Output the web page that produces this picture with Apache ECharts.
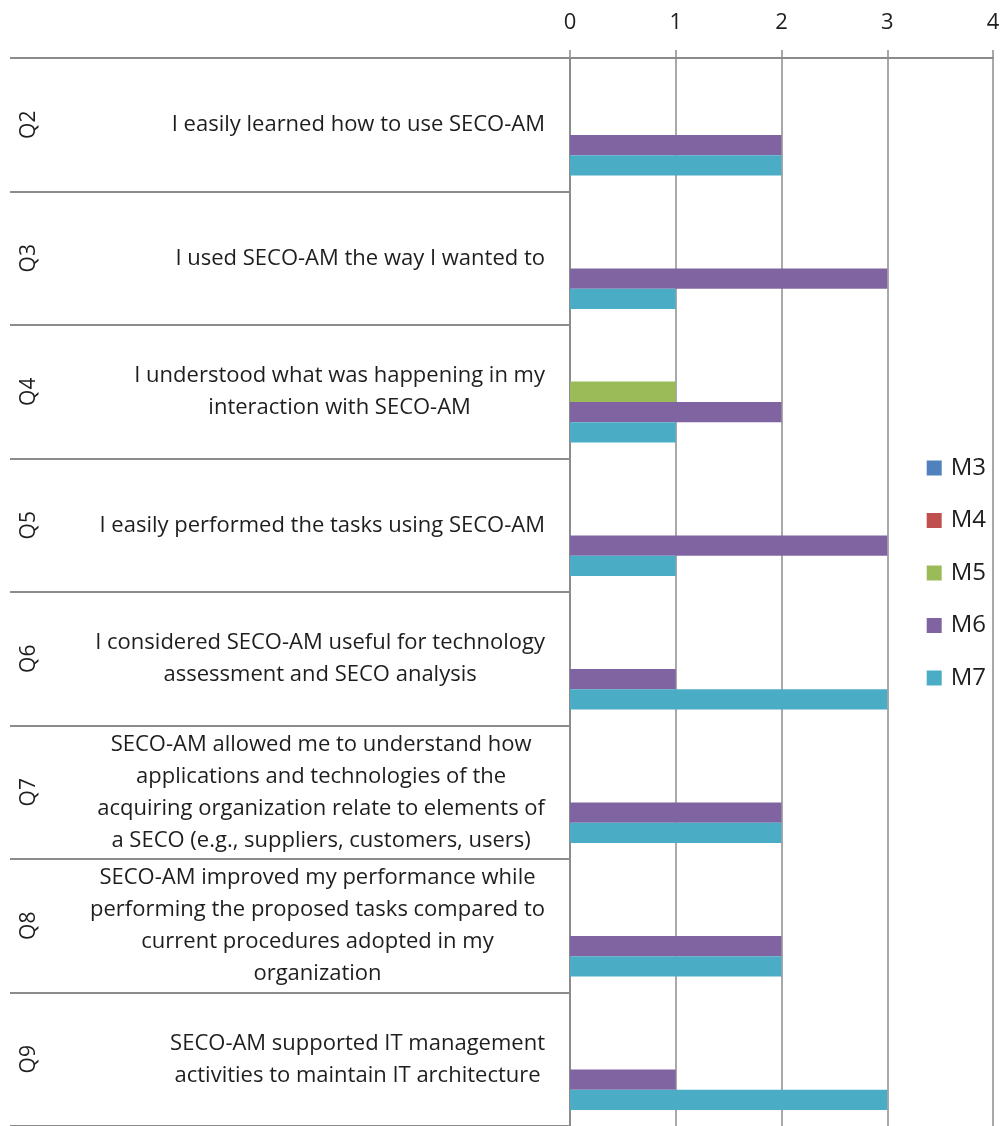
<!DOCTYPE html>
<html>
<head>
<meta charset="utf-8">
<script src="https://cdn.jsdelivr.net/npm/echarts@6/dist/echarts.min.js"></script>
<style>
  html, body { margin: 0; padding: 0; background: #fff; }
  #chart { width: 1003px; height: 1126px; }
</style>
</head>
<body>
<div id="chart"></div>
<script>
// Question codes (outer category level) and question texts (inner level)
const questionCodes = ['Q2', 'Q3', 'Q4', 'Q5', 'Q6', 'Q7', 'Q8', 'Q9'];
const questionTexts = [
  'I easily learned how to use SECO-AM',
  'I used SECO-AM the way I wanted to',
  'I understood what was happening in my\ninteraction with SECO-AM',
  'I easily performed the tasks using SECO-AM',
  'I considered SECO-AM useful for technology\nassessment and SECO analysis',
  'SECO-AM allowed me to understand how\napplications and technologies of the\nacquiring organization relate to elements of\na SECO (e.g., suppliers, customers, users)',
  'SECO-AM improved my performance while\nperforming the proposed tasks compared to\ncurrent procedures adopted in my\norganization',
  'SECO-AM supported IT management\nactivities to maintain IT architecture'
];

// Answer counts per question
const seriesNames = ['M3', 'M4', 'M5', 'M6', 'M7'];
const m3Values = [0, 0, 0, 0, 0, 0, 0, 0];
const m4Values = [0, 0, 0, 0, 0, 0, 0, 0];
const m5Values = [0, 0, 1, 0, 0, 0, 0, 0];
const m6Values = [2, 3, 2, 3, 1, 2, 2, 1];
const m7Values = [2, 1, 1, 1, 3, 2, 2, 3];

// Value axis ticks
const valueTicks = [0, 1, 2, 3, 4];

const colors = ['#4F81BD', '#C0504D', '#9BBB59', '#8064A2', '#4BACC6'];
const gridColor = '#8c8c8c';
const textColor = '#1e1e1e';
const fontFamily = '"Open Sans", Lato, sans-serif';

const chart = echarts.init(document.getElementById('chart'));

const seriesData = [m3Values, m4Values, m5Values, m6Values, m7Values];

chart.setOption({
  animation: false,
  color: colors,
  textStyle: { fontFamily: fontFamily },
  grid: { left: 570, right: 10, top: 58, bottom: 0, containLabel: false },
  legend: {
    orient: 'vertical',
    right: 12,
    top: 451,
    data: seriesNames,
    icon: 'rect',
    itemWidth: 15,
    itemHeight: 15,
    itemGap: 28.5,
    textStyle: { fontSize: 24, lineHeight: 24, color: textColor, fontFamily: fontFamily, padding: [0, 0, 0, 4] }
  },
  xAxis: {
    type: 'value',
    position: 'top',
    min: valueTicks[0],
    max: valueTicks[valueTicks.length - 1],
    interval: 1,
    axisLine: { show: true, lineStyle: { color: gridColor, width: 2 } },
    axisTick: { show: true, length: 8, lineStyle: { color: gridColor, width: 1.5 } },
    axisLabel: { fontSize: 22, color: textColor, margin: 24, fontFamily: fontFamily },
    splitLine: { show: true, lineStyle: { color: gridColor, width: 1.5 } }
  },
  yAxis: [
    {
      type: 'category',
      inverse: true,
      data: questionTexts,
      axisLine: { show: true, lineStyle: { color: gridColor, width: 2 } },
      axisTick: { show: true, length: 560, interval: 0, lineStyle: { color: gridColor, width: 2 } },
      axisLabel: {
        interval: 0,
        margin: 25,
        align: 'right',
        color: textColor,
        fontSize: 22,
        fontFamily: fontFamily,
        formatter: function (value) {
          return value.split('\n').map(function (line) { return '{c|' + line + '}'; }).join('\n');
        },
        rich: {
          c: { align: 'center', fontSize: 22, lineHeight: 32, color: textColor, fontFamily: fontFamily }
        }
      }
    },
    {
      type: 'category',
      inverse: true,
      position: 'left',
      offset: 530,
      data: questionCodes,
      axisLine: { show: false },
      axisTick: { show: false },
      axisLabel: {
        interval: 0,
        rotate: 90,
        margin: 0,
        color: textColor,
        fontSize: 21,
        fontFamily: fontFamily
      }
    }
  ],
  series: seriesNames.map(function (name, i) {
    return {
      name: name,
      type: 'bar',
      yAxisIndex: 0,
      data: seriesData[i],
      barGap: '0%',
      barCategoryGap: '24%',
      itemStyle: { color: colors[i] }
    };
  })
});
</script>
</body>
</html>
